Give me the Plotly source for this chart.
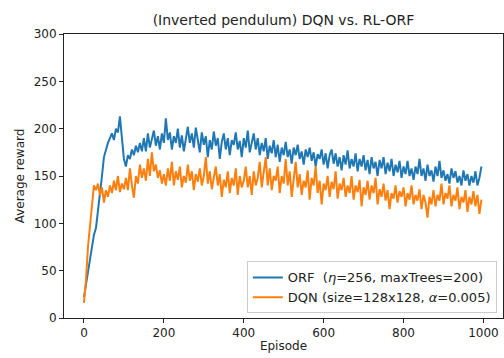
import plotly.graph_objects as go

episodes = list(range(0, 1000, 5))

orf_reward = [
    22, 35, 50, 62, 75, 88, 95, 112, 130, 150,
    170, 178, 185, 190, 195, 188, 200, 196, 213, 190,
    168, 160, 172, 168, 178, 172, 182, 175, 185, 176,
    190, 176, 195, 180, 188, 198, 182, 192, 178, 195,
    185, 211, 188, 196, 178, 192, 185, 200, 180, 193,
    176, 190, 202, 185, 195, 180, 201, 188, 175, 196,
    183, 192, 170, 188, 178, 197, 182, 190, 168, 186,
    195, 178, 190, 172, 188, 183, 196, 178, 187, 170,
    190, 180, 198, 175, 186, 195, 178, 190, 172, 185,
    176, 190, 168, 182, 174, 188, 170, 183, 165, 180,
    172, 186, 170, 178, 163, 180, 172, 183, 168, 176,
    162, 178, 170, 180, 166, 175, 160, 173, 168, 178,
    162, 174, 158, 172, 178, 163, 174, 160, 170, 156,
    172, 162, 177, 158, 168, 160, 174, 155, 168, 160,
    172, 156, 167, 152, 170, 158, 165, 150, 167, 158,
    170, 152, 164, 155, 168, 150, 162, 154, 166, 148,
    160, 152, 166, 150, 158, 146, 160, 152, 168, 150,
    158, 145, 162, 150, 156, 144, 160, 150, 166, 148,
    156, 145, 152, 142, 158, 148, 155, 143, 150, 140,
    156, 145, 152, 140, 150, 143, 155, 140, 148, 160,
]

dqn_reward = [
    16, 40, 75, 95, 122, 140, 135, 142, 130, 138,
    122, 135, 128, 140, 132, 145, 135, 150, 133, 142,
    136, 148, 135, 158, 140, 127, 150, 142, 162, 148,
    158, 145, 168, 150, 175, 155, 162, 148, 156, 142,
    152, 140, 158, 145, 165, 140, 155, 146, 160, 138,
    150, 143, 162, 145, 155, 135, 152, 144, 158, 140,
    150, 170, 142, 155, 136, 148, 160, 140, 152, 128,
    146, 138, 155, 132, 148, 140, 158, 130, 150, 138,
    145, 160, 138, 150, 130, 155, 140, 148, 165, 138,
    152, 170, 140, 158, 135, 150, 145, 160, 132, 150,
    142, 168, 140, 155, 128, 150, 165, 138, 152, 130,
    145, 138, 156, 125, 148, 140, 160, 132, 145, 120,
    142, 135, 150, 128, 144, 136, 155, 126, 142, 135,
    148, 128, 140, 132, 150, 125, 140, 133, 146, 118,
    138, 130, 145, 125, 140, 132, 148, 120, 136, 128,
    142, 124, 135, 115, 132, 126, 140, 122, 134, 128,
    138, 118, 132, 125, 140, 120, 130, 124, 136, 115,
    130, 122, 106, 128, 120, 135, 118, 130, 124, 142,
    120, 132, 126, 140, 118, 130, 124, 138, 115, 128,
    122, 135, 112, 128, 120, 134, 118, 130, 110, 125,
]

x_ticks = [0, 200, 400, 600, 800, 1000]
y_ticks = [0, 50, 100, 150, 200, 250, 300]

FONT = "DejaVu Sans"

fig = go.Figure()
fig.add_trace(go.Scatter(
    x=episodes, y=orf_reward, mode="lines",
    name="ORF\u00a0\u00a0(<i>η</i>=256, maxTrees=200)",
    line=dict(color="#1f77b4", width=2),
))
fig.add_trace(go.Scatter(
    x=episodes, y=dqn_reward, mode="lines",
    name="DQN (size=128x128, <i>α</i>=0.005)",
    line=dict(color="#ff7f0e", width=2),
))

axis_common = dict(
    showgrid=False, zeroline=False, showline=True, linecolor="#222",
    linewidth=1, mirror=True, ticks="outside", ticklen=4, tickcolor="#222",
    tickfont=dict(family=FONT, size=12, color="#222"),
)

fig.update_layout(
    width=504, height=358,
    margin=dict(l=64, r=1, t=34, b=40),
    paper_bgcolor="white", plot_bgcolor="white",
    title=dict(text="(Inverted pendulum) DQN vs. RL-ORF", x=0.5, xanchor="center",
               xref="paper", y=1 - 20 / 358, yanchor="middle",
               font=dict(family=FONT, size=14, color="#222")),
    xaxis=dict(range=[-50, 1049], tickvals=x_ticks,
               title=dict(text="Episode", standoff=2,
                          font=dict(family=FONT, size=12, color="#222")),
               **axis_common),
    yaxis=dict(range=[0, 300], tickvals=y_ticks,
               title=dict(text="Average reward", standoff=6,
                          font=dict(family=FONT, size=12, color="#222")),
               **axis_common),
    legend=dict(x=0.986, y=0.016, xanchor="right", yanchor="bottom",
                bgcolor="rgba(255,255,255,0.8)", bordercolor="#ccc", borderwidth=1,
                itemwidth=30,
                font=dict(family=FONT, size=13, color="#222")),
    showlegend=True,
)

fig.write_html("out.html")
